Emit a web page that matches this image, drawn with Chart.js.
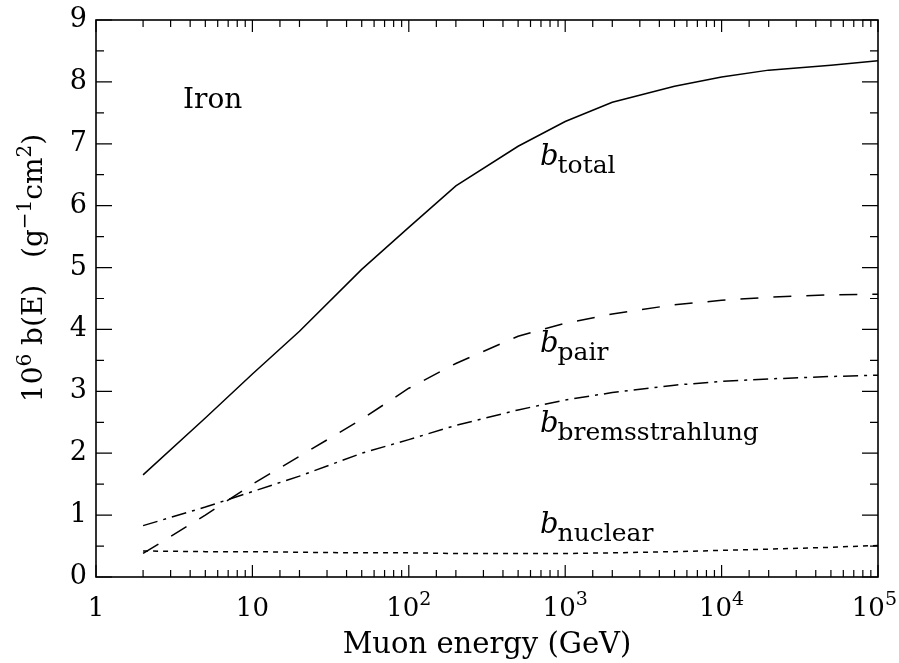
<!DOCTYPE html>
<html>
<head>
<meta charset="utf-8">
<script src="https://cdn.jsdelivr.net/npm/chart.js@4/dist/chart.umd.min.js"></script>
<style>
  html, body { margin: 0; padding: 0; background: #fff; }
  #wrap { width: 899px; height: 663px; }
</style>
</head>
<body>
<div id="wrap"><canvas id="c"></canvas></div>
<script>
// muon energy (GeV) where the curves were read
const energy = [2, 5, 10, 20, 50, 100, 200, 500, 1000, 2000, 5000, 1e4, 2e4, 5e4, 1e5];
// energy loss coefficients, 10^6 b (g^-1 cm^2)
const bTotal   = [1.65, 2.57, 3.28, 3.97, 4.97, 5.65, 6.32, 6.96, 7.36, 7.67, 7.93, 8.08, 8.19, 8.27, 8.34];
const bPair    = [0.38, 1.00, 1.50, 1.95, 2.55, 3.05, 3.45, 3.89, 4.10, 4.25, 4.40, 4.47, 4.52, 4.56, 4.57];
const bBrems   = [0.83, 1.13, 1.38, 1.63, 2.00, 2.22, 2.45, 2.70, 2.86, 2.98, 3.10, 3.16, 3.20, 3.24, 3.26];
const bNuclear = [0.42, 0.41, 0.41, 0.40, 0.39, 0.39, 0.38, 0.38, 0.38, 0.39, 0.41, 0.43, 0.45, 0.48, 0.51];

// x tick labels: [value, base, exponent]
const decadeTicks = [[1, '1', ''], [10, '10', ''], [100, '10', '2'], [1000, '10', '3'], [10000, '10', '4'], [100000, '10', '5']];

// curve labels: [sub text, energy, value at baseline of the "b"]
const curveLabels = [
  ['total', 690, 6.66],
  ['pair', 690, 3.63],
  ['bremsstrahlung', 690, 2.34],
  ['nuclear', 690, 0.71]
];

const FONT = "'DejaVu Serif', 'Liberation Serif', serif";
const isDecade = (v) => decadeTicks.some(d => d[0] === v);

const pts = (ys) => energy.map((e, i) => ({x: e, y: ys[i]}));

function ds(label, ys, dash) {
  return {
    label: label,
    data: pts(ys),
    borderColor: '#000',
    borderWidth: 1.5,
    borderDash: dash,
    pointRadius: 0,
    tension: 0,
    fill: false
  };
}

// draws pieces [text, size, raise] in a row, returns the width
function runText(ctx, pieces, x, y, measureOnly) {
  let w = 0;
  pieces.forEach(([t, size, raise]) => {
    ctx.font = size + 'px ' + FONT;
    if (!measureOnly) ctx.fillText(t, x + w, y - raise);
    w += ctx.measureText(t).width;
  });
  return w;
}

// inward ticks on all four sides + the text round the frame
const frameTicks = {
  id: 'frameTicks',
  afterDraw(chart) {
    const ctx = chart.ctx;
    const a = chart.chartArea;
    const xs = chart.scales.x, ys = chart.scales.y;
    ctx.save();
    ctx.strokeStyle = '#000';
    ctx.lineWidth = 1.6;
    ctx.strokeRect(a.left, a.top, a.right - a.left, a.bottom - a.top);
    ctx.lineWidth = 1.2;
    ctx.beginPath();
    xs.ticks.forEach(t => {
      const px = xs.getPixelForValue(t.value);
      const len = isDecade(t.value) ? 12 : 7;
      ctx.moveTo(px, a.bottom); ctx.lineTo(px, a.bottom - len);
      ctx.moveTo(px, a.top); ctx.lineTo(px, a.top + len);
    });
    ys.ticks.forEach(t => {
      const py = ys.getPixelForValue(t.value);
      const len = Number.isInteger(t.value) ? 16 : 8;
      ctx.moveTo(a.left, py); ctx.lineTo(a.left + len, py);
      ctx.moveTo(a.right, py); ctx.lineTo(a.right - len, py);
    });
    ctx.stroke();

    ctx.fillStyle = '#000';
    ctx.textBaseline = 'alphabetic';
    ctx.textAlign = 'left';

    // x decade labels with raised exponents
    decadeTicks.forEach(([v, base, exp]) => {
      const pieces = [[base, 26, 0]];
      if (exp) pieces.push([exp, 19, 11]);
      const w = runText(ctx, pieces, 0, 0, true);
      let x0 = xs.getPixelForValue(v) - w / 2;
      if (x0 + w > chart.width - 2) x0 = chart.width - 2 - w;
      runText(ctx, pieces, x0, a.bottom + 39, false);
    });

    // y title, rotated
    const yt = [['10', 28, 0], ['6', 20, 11], [' b(E)   (g', 28, 0], ['−1', 20, 11], ['cm', 28, 0], ['2', 20, 11], [')', 28, 0]];
    const wy = runText(ctx, yt, 0, 0, true);
    ctx.save();
    ctx.translate(42, 268);
    ctx.rotate(-Math.PI / 2);
    runText(ctx, yt, -wy / 2, 0, false);
    ctx.restore();

    ctx.font = '28px ' + FONT;
    ctx.fillText('Iron', 183, 108);

    curveLabels.forEach(([sub, e, v]) => {
      const px = xs.getPixelForValue(e);
      const py = ys.getPixelForValue(v);
      ctx.font = 'italic 29px ' + FONT;
      ctx.fillText('b', px, py);
      const w = ctx.measureText('b').width;
      ctx.font = '25px ' + FONT;
      ctx.fillText(sub, px + w - 1, py + 8);
    });
    ctx.restore();
  }
};

new Chart(document.getElementById('c'), {
  type: 'line',
  data: {
    datasets: [
      ds('total', bTotal, []),
      ds('pair', bPair, [18, 15]),
      ds('bremsstrahlung', bBrems, [15, 6, 3, 6]),
      ds('nuclear', bNuclear, [5, 5])
    ]
  },
  options: {
    responsive: true,
    maintainAspectRatio: false,
    animation: false,
    layout: { padding: { left: 0, right: 21, top: 20, bottom: 0 } },
    plugins: { legend: { display: false }, tooltip: { enabled: false } },
    scales: {
      x: {
        type: 'logarithmic',
        min: 1,
        max: 1e5,
        border: { display: false },
        grid: { display: false, drawTicks: false },
        ticks: {
          autoSkip: false,
          maxRotation: 0,
          callback: () => ''
        },
        title: {
          display: true,
          text: 'Muon energy (GeV)',
          color: '#000',
          font: { family: FONT, size: 29 },
          padding: { top: 0, bottom: 0 }
        },
        afterFit: (s) => { s.height = 86; s.paddingLeft = 0; s.paddingRight = 0; }
      },
      y: {
        min: 0,
        max: 9,
        border: { display: false },
        grid: { display: false, drawTicks: false },
        ticks: {
          stepSize: 0.5,
          color: '#000',
          font: { family: FONT, size: 27 },
          padding: 9,
          autoSkip: false,
          callback: (v) => Number.isInteger(v) ? String(v) : ''
        },
        afterFit: (s) => { s.width = 96; s.paddingTop = 0; s.paddingBottom = 0; }
      }
    }
  },
  plugins: [frameTicks]
});
</script>
</body>
</html>
